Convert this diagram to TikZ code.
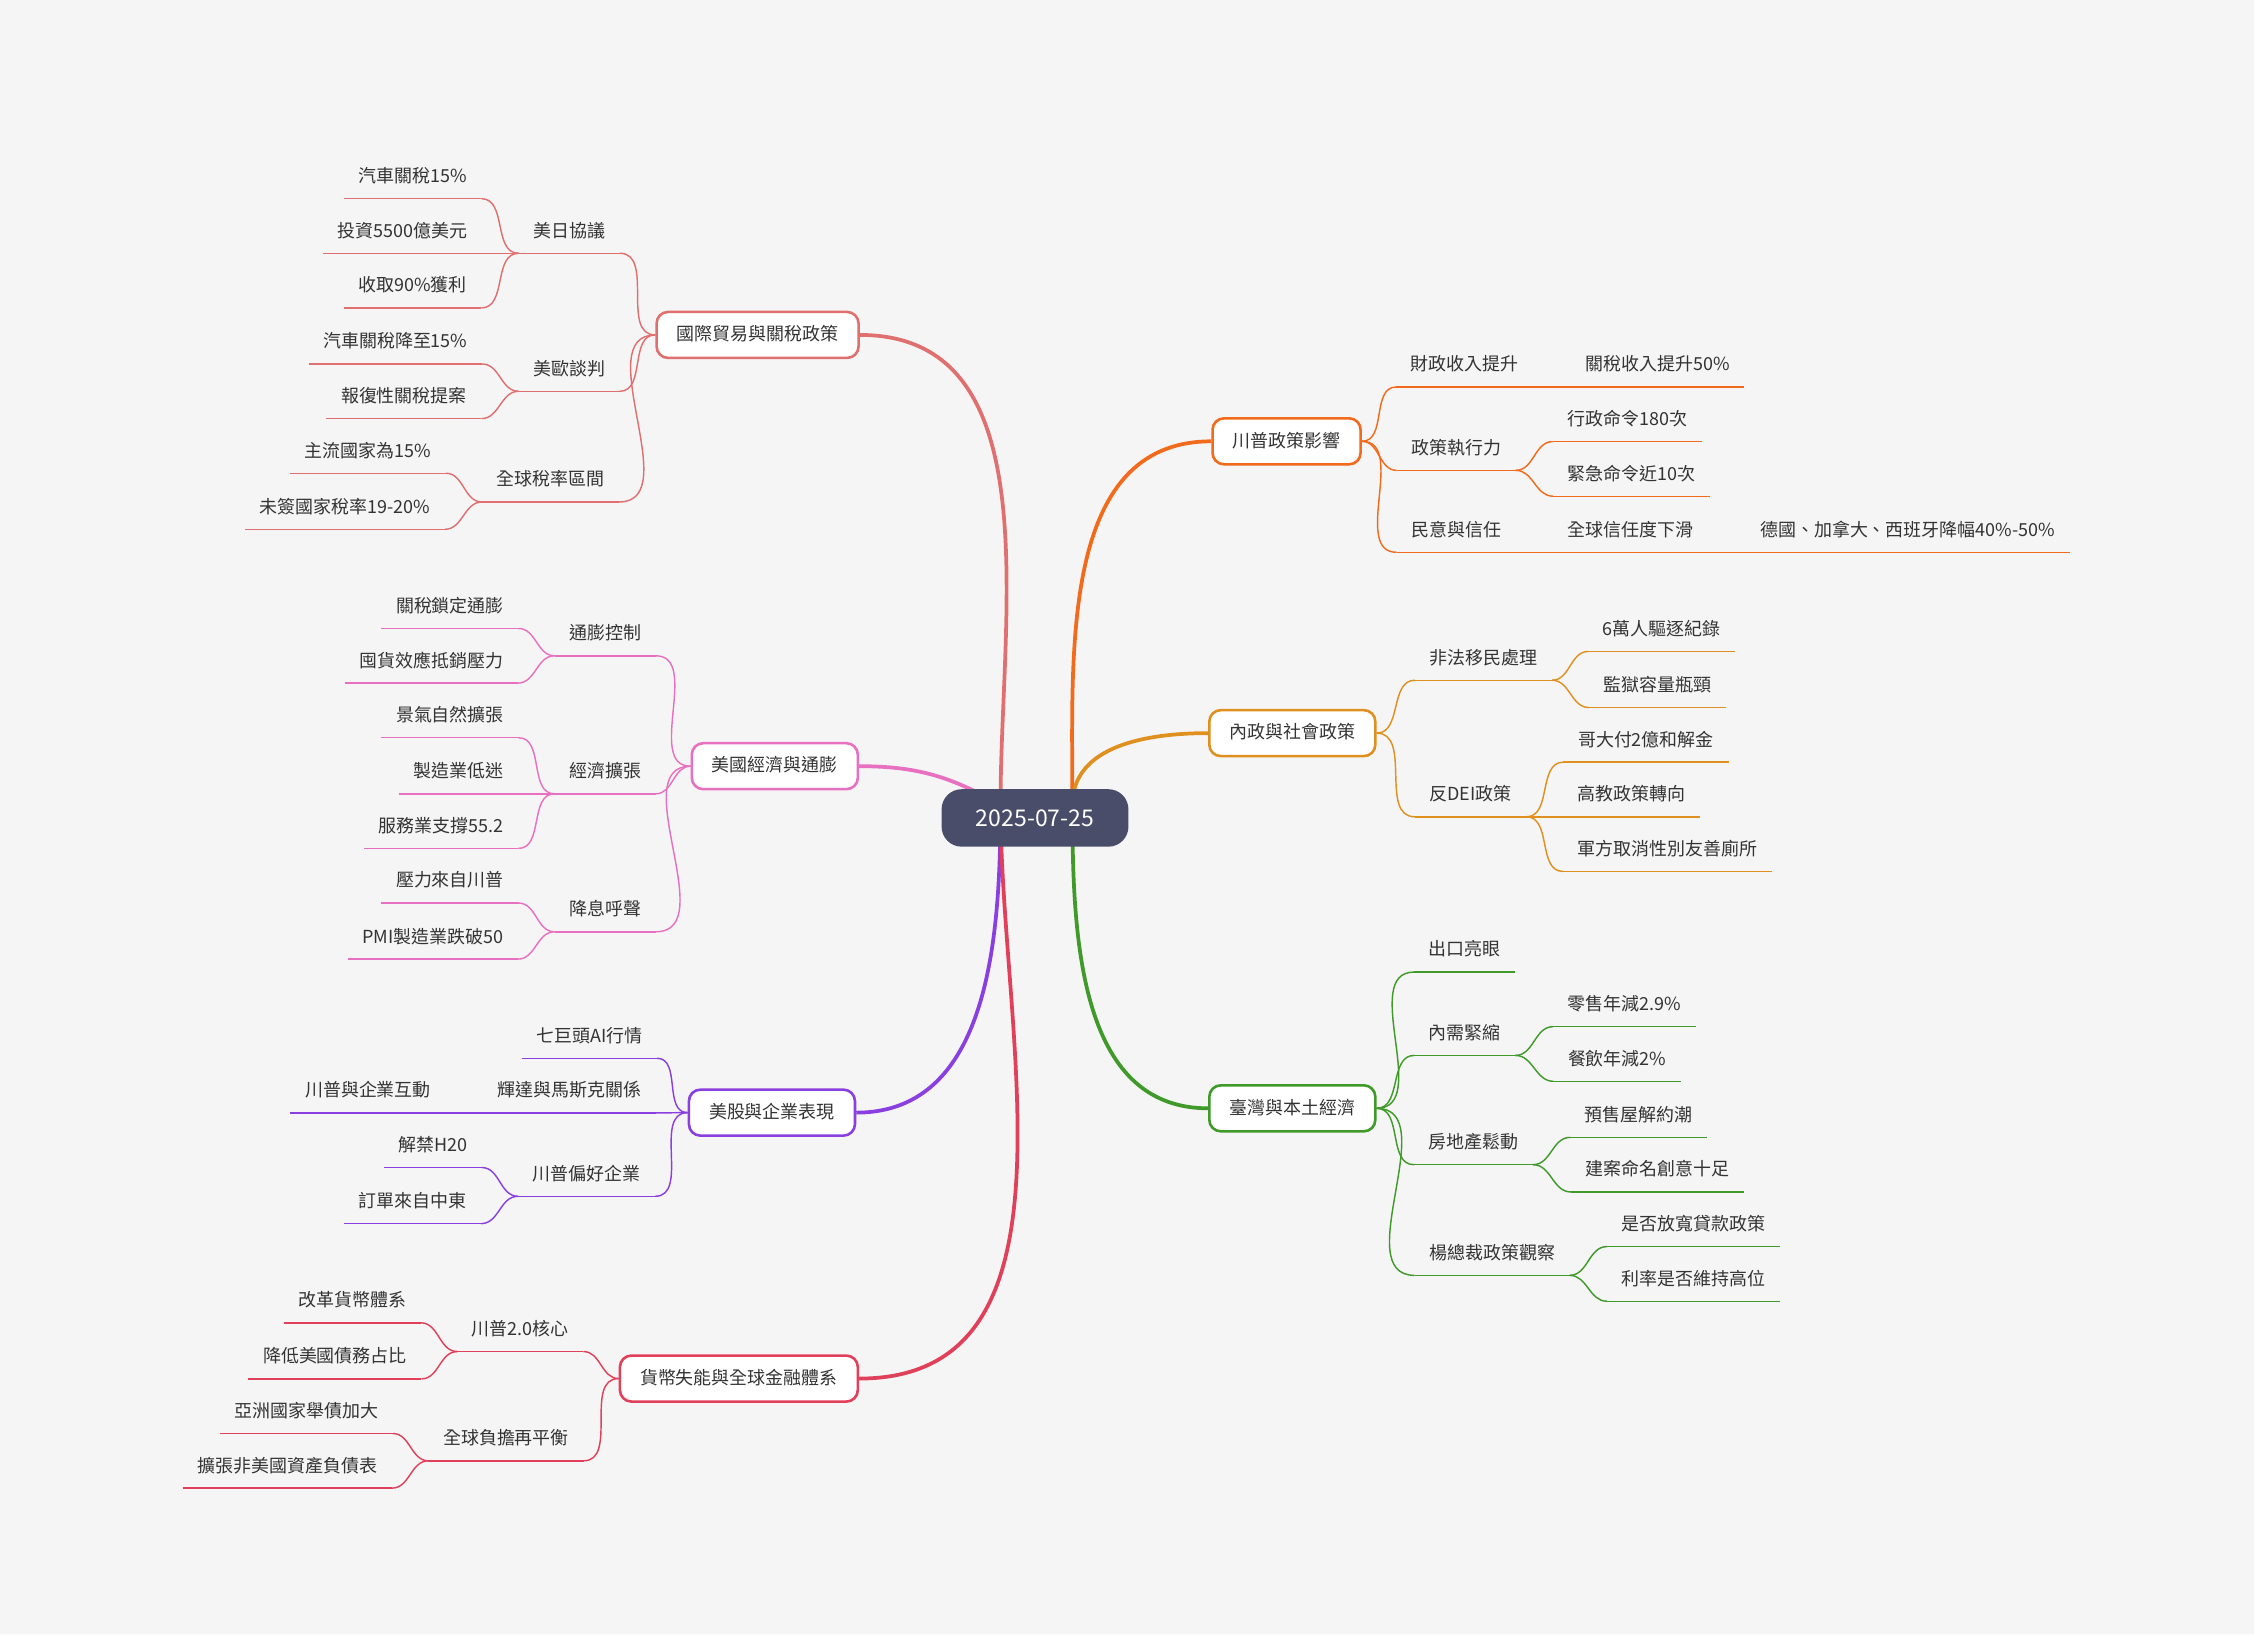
\documentclass[tikz,border=0pt]{standalone}
\usepackage{fontspec}
\setmainfont{Noto Sans CJK TC}
\definecolor{bg}{HTML}{F5F5F5}
\definecolor{tx}{HTML}{333333}
\definecolor{cA}{HTML}{F26B1D}
\definecolor{cB}{HTML}{E0901F}
\definecolor{cC}{HTML}{3F9A2A}
\definecolor{cD}{HTML}{E07070}
\definecolor{cE}{HTML}{E870C0}
\definecolor{cF}{HTML}{8A3FE0}
\definecolor{cG}{HTML}{E0405A}
\definecolor{rt}{HTML}{4A4D6A}
\tikzset{
 leaf/.style={font=\fontsize{12.5}{14}\selectfont,text=tx,inner xsep=10pt,inner ysep=9pt,text height=10pt,text depth=2pt},
 box/.style={draw=#1,line width=1.8pt,rounded corners=8pt,fill=white,font=\fontsize{12.5}{14}\selectfont,text=tx,inner xsep=14pt,minimum height=32pt,text height=10pt,text depth=2pt},
 ln/.style={draw=#1,line width=1pt},
 mn/.style={draw=#1,line width=2.6pt}
}
\newcommand\lfn[5]{\node[leaf] (#1) at (#2,#3) {#4}; \draw[ln=#5] (#1.south west)--(#1.south east);}
\newcommand\conR[3]{\draw[ln=#3] (#1.south east) to[out=0,in=180] (#2.south west);}
\newcommand\conL[3]{\draw[ln=#3] (#1.south west) to[out=180,in=0] (#2.south east);}
\newcommand\bxR[3]{\draw[ln=#3] (#1.east) to[out=0,in=180] (#2.south west);}
\newcommand\bxL[3]{\draw[ln=#3] (#1.west) to[out=180,in=0] (#2.south east);}
\begin{document}
\begin{tikzpicture}[x=1pt,y=-1pt]
\fill[bg] (0,0) rectangle (1568,1137);
\useasboundingbox (0,0) rectangle (1568,1137);
% boxes
\node[box=cA] (B1) at (895,307) {川普政策影響};
\node[box=cB] (B2) at (899,510) {內政與社會政策};
\node[box=cC] (B3) at (899,771) {臺灣與本土經濟};
\node[box=cD] (L1) at (527,233) {國際貿易與關稅政策};
\node[box=cE] (L2) at (539,533) {美國經濟與通膨};
\node[box=cF] (L3) at (537,774) {美股與企業表現};
\node[box=cG] (L4) at (514,959) {貨幣失能與全球金融體系};
% root links
\coordinate (rr) at (746,560);
\coordinate (rl) at (696,560);
\draw[mn=cA] (rr) to[out=90,in=180] (B1.west);
\draw[mn=cB] (rr) to[out=90,in=180] (B2.west);
\draw[mn=cC] (rr) to[out=-90,in=180] (B3.west);
\draw[mn=cD] (rl) to[out=90,in=0] (L1.east);
\draw[mn=cE] (rl) to[out=150,in=0] (L2.east);
\draw[mn=cF] (rl) to[out=-90,in=0] (L3.east);
\draw[mn=cG] (rl) to[out=-90,in=0] (L4.east);
\node[fill=rt,text=white,rounded corners=14pt,minimum width=130pt,minimum height=40pt,font=\fontsize{16}{18}\selectfont] (root) at (720,569) {2025-07-25};
% B1
\lfn{a1}{1019}{254}{財政收入提升}{cA}
\lfn{a1a}{1153}{254}{關稅收入提升50\%}{cA}
\lfn{a2}{1013}{312}{政策執行力}{cA}
\lfn{a2a}{1132}{292}{行政命令180次}{cA}
\lfn{a2b}{1135}{330}{緊急命令近10次}{cA}
\lfn{a3}{1013}{369}{民意與信任}{cA}
\lfn{a3a}{1134}{369}{全球信任度下滑}{cA}
\lfn{a3b}{1327}{369}{德國、加拿大、西班牙降幅40\%-50\%}{cA}
\bxR{B1}{a1}{cA}\bxR{B1}{a2}{cA}\bxR{B1}{a3}{cA}
\conR{a1}{a1a}{cA}\conR{a2}{a2a}{cA}\conR{a2}{a2b}{cA}\conR{a3}{a3a}{cA}\conR{a3a}{a3b}{cA}
% B2
\lfn{b1}{1032}{458}{非法移民處理}{cB}
\lfn{b1a}{1156}{438}{6萬人驅逐紀錄}{cB}
\lfn{b1b}{1153}{477}{監獄容量瓶頸}{cB}
\lfn{b2}{1023}{553}{反DEI政策}{cB}
\lfn{b2a}{1145}{515}{哥大付2億和解金}{cB}
\lfn{b2b}{1135}{553}{高教政策轉向}{cB}
\lfn{b2c}{1160}{591}{軍方取消性別友善廁所}{cB}
\bxR{B2}{b1}{cB}\bxR{B2}{b2}{cB}
\conR{b1}{b1a}{cB}\conR{b1}{b1b}{cB}\conR{b2}{b2a}{cB}\conR{b2}{b2b}{cB}\conR{b2}{b2c}{cB}
% B3
\lfn{c1}{1019}{661}{出口亮眼}{cC}
\lfn{c2}{1019}{719}{內需緊縮}{cC}
\lfn{c2a}{1130}{699}{零售年減2.9\%}{cC}
\lfn{c2b}{1125}{737}{餐飲年減2\%}{cC}
\lfn{c3}{1025}{795}{房地產鬆動}{cC}
\lfn{c3a}{1140}{776}{預售屋解約潮}{cC}
\lfn{c3b}{1153}{814}{建案命名創意十足}{cC}
\lfn{c4}{1038}{872}{楊總裁政策觀察}{cC}
\lfn{c4a}{1178}{852}{是否放寬貸款政策}{cC}
\lfn{c4b}{1178}{890}{利率是否維持高位}{cC}
\bxR{B3}{c1}{cC}\bxR{B3}{c2}{cC}\bxR{B3}{c3}{cC}\bxR{B3}{c4}{cC}
\conR{c2}{c2a}{cC}\conR{c2}{c2b}{cC}\conR{c3}{c3a}{cC}\conR{c3}{c3b}{cC}\conR{c4}{c4a}{cC}\conR{c4}{c4b}{cC}
% L1
\lfn{d1}{396}{161}{美日協議}{cD}
\lfn{d1a}{287}{123}{汽車關稅15\%}{cD}
\lfn{d1b}{280}{161}{投資5500億美元}{cD}
\lfn{d1c}{287}{199}{收取90\%獲利}{cD}
\lfn{d2}{396}{257}{美歐談判}{cD}
\lfn{d2a}{275}{238}{汽車關稅降至15\%}{cD}
\lfn{d2b}{281}{276}{報復性關稅提案}{cD}
\lfn{d3}{383}{334}{全球稅率區間}{cD}
\lfn{d3a}{256}{314}{主流國家為15\%}{cD}
\lfn{d3b}{240}{353}{未簽國家稅率19-20\%}{cD}
\bxL{L1}{d1}{cD}\bxL{L1}{d2}{cD}\bxL{L1}{d3}{cD}
\conL{d1}{d1a}{cD}\conL{d1}{d1b}{cD}\conL{d1}{d1c}{cD}\conL{d2}{d2a}{cD}\conL{d2}{d2b}{cD}\conL{d3}{d3a}{cD}\conL{d3}{d3b}{cD}
% L2
\lfn{e1}{421}{441}{通膨控制}{cE}
\lfn{e1a}{313}{422}{關稅鎖定通膨}{cE}
\lfn{e1b}{300}{460}{囤貨效應抵銷壓力}{cE}
\lfn{e2}{421}{537}{經濟擴張}{cE}
\lfn{e2a}{313}{498}{景氣自然擴張}{cE}
\lfn{e2b}{319}{537}{製造業低迷}{cE}
\lfn{e2c}{307}{575}{服務業支撐55.2}{cE}
\lfn{e3}{421}{633}{降息呼聲}{cE}
\lfn{e3a}{313}{613}{壓力來自川普}{cE}
\lfn{e3b}{301}{652}{PMI製造業跌破50}{cE}
\bxL{L2}{e1}{cE}\bxL{L2}{e2}{cE}\bxL{L2}{e3}{cE}
\conL{e1}{e1a}{cE}\conL{e1}{e1b}{cE}\conL{e2}{e2a}{cE}\conL{e2}{e2b}{cE}\conL{e2}{e2c}{cE}\conL{e3}{e3a}{cE}\conL{e3}{e3b}{cE}
% L3
\lfn{f1}{410}{721}{七巨頭AI行情}{cF}
\lfn{f2}{396}{759}{輝達與馬斯克關係}{cF}
\lfn{f2a}{256}{759}{川普與企業互動}{cF}
\lfn{f3}{408}{817}{川普偏好企業}{cF}
\lfn{f3a}{301}{797}{解禁H20}{cF}
\lfn{f3b}{287}{836}{訂單來自中東}{cF}
\bxL{L3}{f1}{cF}\bxL{L3}{f2}{cF}\bxL{L3}{f3}{cF}
\conL{f2}{f2a}{cF}\conL{f3}{f3a}{cF}\conL{f3}{f3b}{cF}
% L4
\lfn{g1}{362}{925}{川普2.0核心}{cG}
\lfn{g1a}{245}{905}{改革貨幣體系}{cG}
\lfn{g1b}{233}{944}{降低美國債務占比}{cG}
\lfn{g2}{352}{1001}{全球負擔再平衡}{cG}
\lfn{g2a}{213}{982}{亞洲國家舉債加大}{cG}
\lfn{g2b}{200}{1020}{擴張非美國資產負債表}{cG}
\bxL{L4}{g1}{cG}\bxL{L4}{g2}{cG}
\conL{g1}{g1a}{cG}\conL{g1}{g1b}{cG}\conL{g2}{g2a}{cG}\conL{g2}{g2b}{cG}
\end{tikzpicture}
\end{document}
